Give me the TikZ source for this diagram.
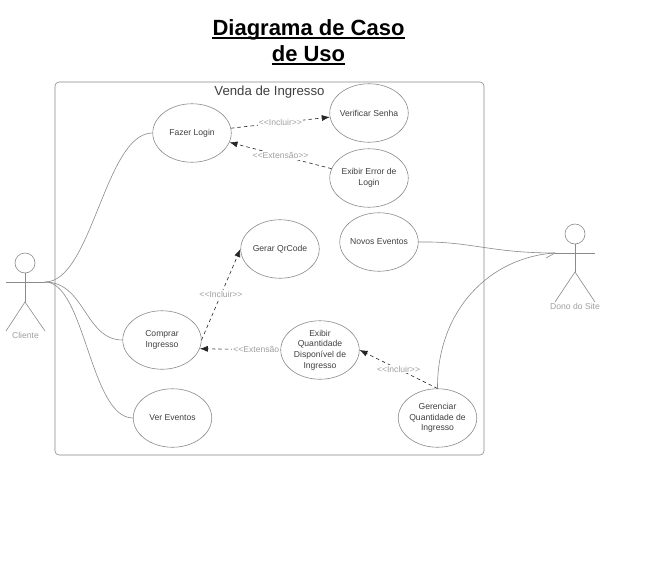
\documentclass[tikz,border=0pt]{standalone}
\usepackage{fontspec}
\setmainfont{Liberation Sans}
\usetikzlibrary{shapes.geometric,arrows.meta}
\definecolor{linegray}{HTML}{8A8A8A}
\definecolor{txtgray}{HTML}{404040}
\definecolor{lblgray}{HTML}{A0A0A0}
\newcommand{\opnq}{{<}\kern0pt{<}}
\newcommand{\clsq}{{>}\kern0pt{>}}
\tikzset{
  usecase/.style={draw=linegray,ellipse,line width=0.6pt,minimum width=78.5pt,minimum height=58.5pt,inner sep=0pt},
  uctext/.style={align=center,text=txtgray,inner sep=0pt,font=\fontsize{8.6}{10.6}\selectfont},
  headnode/.style={draw=linegray,circle,line width=0.6pt,minimum size=20pt,inner sep=0pt},
  actorlbl/.style={text=lblgray,font=\fontsize{8.6}{10}\selectfont,inner sep=0pt},
  limb/.style={draw=linegray,line width=0.6pt},
  assoc/.style={draw=linegray,line width=0.6pt},
  rel/.style={draw=black!85,line width=0.6pt,dash pattern=on 3.5pt off 3pt,-{Latex[length=8pt,width=6pt]}},
  rellbl/.style={text=lblgray,fill=white,inner sep=1pt,font=\fontsize{8.6}{10}\selectfont},
  titlelbl/.style={font=\fontsize{22}{26}\bfseries\selectfont,inner sep=0pt,anchor=base},
}
\begin{document}
\begin{tikzpicture}[x=1pt,y=-1pt]
\useasboundingbox (0,0) rectangle (658,576);
\fill[white] (0,0) rectangle (658,576);
% title
\node[titlelbl] (t1) at (308.5,35.5) {Diagrama de Caso};
\node[titlelbl] (t2) at (308.5,61.5) {de Uso};
\draw[line width=1.3pt] ([yshift=-2.5pt]t1.base west) -- ([yshift=-2.5pt]t1.base east);
\draw[line width=1.3pt] ([yshift=-2.5pt]t2.base west) -- ([yshift=-2.5pt]t2.base east);
% system frame
\node (frame) at (269.5,268.5) [draw=linegray,line width=0.6pt,rounded corners=4pt,minimum width=429pt,minimum height=373pt,inner sep=0pt] {};
\node (ftitle) at (269.5,92) [anchor=center,text=txtgray,font=\fontsize{13.2}{16}\selectfont,inner sep=0pt] {Venda de Ingresso};
% use cases
\node[usecase,label={[uctext]center:Fazer Login}] (login) at (192,133) {};
\node[usecase,label={[uctext]center:Verificar Senha}] (senha) at (369,113) {};
\node[usecase,label={[uctext]center:Exibir Error de\\Login}] (erro) at (369,178) {};
\node[usecase,label={[uctext]center:Novos Eventos}] (novos) at (379,242) {};
\node[usecase,label={[uctext]center:Gerar QrCode}] (qr) at (280,249) {};
\node[usecase,label={[uctext]center:Comprar\\Ingresso}] (comprar) at (162,340) {};
\node[usecase,label={[uctext]center:Exibir\\Quantidade\\Disponível de\\Ingresso}] (qtd) at (320,350) {};
\node[usecase,label={[uctext]center:Ver Eventos}] (ver) at (172.5,418) {};
\node[usecase,label={[uctext]center:Gerenciar\\Quantidade de\\Ingresso}] (ger) at (437.5,418) {};
% actor: Cliente
\node[headnode] (chead) at (25,263) {};
\coordinate (cbody) at (25,302);
\coordinate (cl) at (6,282);
\coordinate (cr) at (45,282);
\coordinate (clf) at (6,331);
\coordinate (crf) at (45,331);
\draw[limb] (chead.south) -- (cbody);
\draw[limb] (cl) -- (cr);
\draw[limb] (clf) -- (cbody) -- (crf);
\node[actorlbl] (clbl) at (25.5,335.5) {Cliente};
% actor: Dono do Site
\node[headnode] (dhead) at (575,234) {};
\coordinate (dbody) at (575,272);
\coordinate (dl) at (555,253);
\coordinate (dr) at (595,253);
\coordinate (dlf) at (555,302);
\coordinate (drf) at (595,302);
\draw[limb] (dhead.south) -- (dbody);
\draw[limb] (dl) -- (dr);
\draw[limb] (dlf) -- (dbody) -- (drf);
\node[actorlbl] (dlbl) at (575,306) {Dono do Site};
% associations
\draw[assoc] (cr) .. controls (92,282) and (105,133) .. (login.west);
\draw[assoc] (cr) .. controls (85,282) and (85,340) .. (comprar.west);
\draw[assoc] (cr) .. controls (85,282) and (90,418) .. (ver.west);
\draw[assoc] (novos.east) .. controls (470,241) and (490,253) .. (dl);
\draw[assoc] (ger.north) .. controls (437,310) and (490,257) .. (dl);
\coordinate (dtick) at (546,258);
\draw[assoc] (dtick) -- (dl);
% relations
\draw[rel] (login.7) -- node[rellbl,pos=0.5] {\opnq Incluir\clsq} (senha.186);
\draw[rel] (erro.166) -- node[rellbl,pos=0.5] {\opnq Extensão\clsq} (login.-14);
\draw[rel] (comprar.east) -- node[rellbl,pos=0.5] {\opnq Incluir\clsq} (qr.west);
\draw[rel] (qtd.west) -- node[rellbl,pos=0.3] {\opnq Extensão} (comprar.-13);
\draw[rel] (ger.north) -- node[rellbl,pos=0.5] {\opnq Incluir\clsq} (qtd.east);
\end{tikzpicture}
\end{document}
